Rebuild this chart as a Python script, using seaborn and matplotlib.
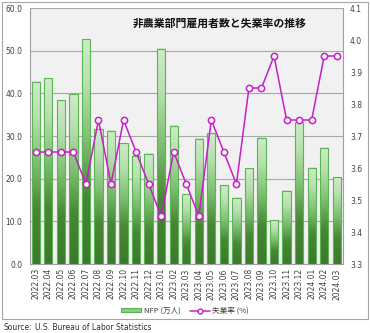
import numpy as np
import pandas as pd
import matplotlib
matplotlib.use("Agg")
import matplotlib.pyplot as plt
from matplotlib.colors import LinearSegmentedColormap
from matplotlib.patches import Rectangle, Patch
from matplotlib.lines import Line2D
import seaborn as sns

months = ["2022.03", "2022.04", "2022.05", "2022.06", "2022.07", "2022.08", "2022.09",
          "2022.10", "2022.11", "2022.12", "2023.01", "2023.02", "2023.03", "2023.04",
          "2023.05", "2023.06", "2023.07", "2023.08", "2023.09", "2023.10", "2023.11",
          "2023.12", "2024.01", "2024.02", "2024.03"]
nfp = [42.7, 43.5, 38.4, 39.8, 52.7, 31.6, 31.2, 28.3, 25.4, 25.8, 50.5, 32.4, 16.3,
       29.3, 30.6, 18.4, 15.5, 22.5, 29.6, 10.3, 17.2, 33.2, 22.6, 27.3, 20.3]
rate = [3.65, 3.65, 3.65, 3.65, 3.55, 3.75, 3.55, 3.75, 3.65, 3.55, 3.45, 3.65, 3.55,
        3.45, 3.75, 3.65, 3.55, 3.85, 3.85, 3.95, 3.75, 3.75, 3.75, 3.95, 3.95]
left_ticks = [0, 10, 20, 30, 40, 50, 60]
right_ticks = [3.3, 3.4, 3.5, 3.6, 3.7, 3.8, 3.9, 4.0, 4.1]
title = "非農業部門雇用者数と失業率の推移"
bar_label = "NFP (万人)"
line_label = "失業率 (%)"
source_label = "Source:"
source_text = "U.S. Bureau of Labor Statistics"

sns.set_theme(style="white")
plt.rcParams['font.family'] = ['DejaVu Sans', 'Noto Sans CJK JP']
cjk = ['Noto Sans CJK JP', 'DejaVu Sans']

df = pd.DataFrame({"month": months, "nfp": nfp, "rate": rate})

W, H = 370, 333
fig = plt.figure(figsize=(W / 100, H / 100), dpi=100)
fig.patch.set_facecolor("white")
ax = fig.add_axes([29.5 / W, 1 - 264 / H, (343 - 29.5) / W, (264 - 8) / H])
ax.set_facecolor("#f1f1f1")

sns.barplot(data=df, x="month", y="nfp", ax=ax, width=0.66, color="#8fcc85",
            saturation=1, edgecolor="#5db355", linewidth=0.8, zorder=2)

cmap = LinearSegmentedColormap.from_list(
    "g", [(0, "#3b7a2c"), (0.3, "#468833"), (0.55, "#7cbf70"), (0.8, "#b6e0ae"), (1, "#cdebc8")])
grad = np.linspace(0, 1, 200).reshape(-1, 1)
for p in list(ax.patches):
    x0, y0 = p.get_x(), p.get_y()
    w, h = p.get_width(), p.get_height()
    im = ax.imshow(grad, extent=[x0, x0 + w, y0, y0 + h], origin="lower",
                   cmap=cmap, aspect="auto", zorder=2.1, clip_path=p, clip_on=True)
    p.set_facecolor("none")
    p.set_zorder(2.2)

ax.set_xlim(-0.5, len(months) - 0.5)
ax.set_ylim(0, 60)
ax.set_yticks(left_ticks)
ax.set_yticklabels([f"{v:.1f}" for v in left_ticks], fontsize=5.5, color="#404040")
ax.set_xticks(range(len(months)))
ax.set_xticklabels(months, rotation=90, fontsize=5.5, color="#404040")
ax.set_xlabel("")
ax.set_ylabel("")
ax.set_axisbelow(True)
ax.yaxis.grid(True, color="#a8a8a8", linewidth=0.8)
ax.tick_params(axis="x", length=0, pad=3)
ax.tick_params(axis="y", length=0, pad=5)
ax.set_xticks(np.arange(-0.5, len(months), 1), minor=True)
ax.tick_params(axis="x", which="minor", length=2.5, color="#a0a0a0", width=0.6)
for s in ["left", "right", "bottom"]:
    ax.spines[s].set_color("#a0a0a0")
    ax.spines[s].set_linewidth(0.8)
ax.spines["top"].set_visible(False)

ax2 = ax.twinx()
sns.lineplot(x=np.arange(len(months)), y=rate, ax=ax2, color="#c81ec8", linewidth=1.1,
             marker="o", markersize=4.5, markerfacecolor="white",
             markeredgecolor="#c81ec8", markeredgewidth=1.1, zorder=5)
ax2.set_ylim(3.3, 4.1)
ax2.set_yticks(right_ticks)
ax2.set_yticklabels([f"{v:.1f}" for v in right_ticks], fontsize=5.5, color="#404040")
ax2.tick_params(axis="y", length=0, pad=5)
ax2.set_ylabel("")
for s in ax2.spines.values():
    s.set_visible(False)
ax2.set_xlim(-0.5, len(months) - 0.5)

ax.text(0.608, 0.94, title, transform=ax.transAxes, ha="center", va="center",
        fontsize=7.8, fontweight="bold", family=cjk, color="#111111", zorder=10)

fig.patches.append(Rectangle((2 / W, 1 - 319 / H), 366 / W, 317 / H, transform=fig.transFigure,
                             fill=False, edgecolor="#a6a6a6", linewidth=0.8))

handles = [Patch(facecolor="#8fcc85", edgecolor="#5db355", linewidth=0.8),
           Line2D([0], [0], color="#c81ec8", linewidth=1.1, marker="o", markersize=3.5,
                  markerfacecolor="white", markeredgecolor="#c81ec8")]
leg = fig.legend(handles, [bar_label, line_label], loc="center", bbox_to_anchor=(0.5, 1 - 311 / H),
                 ncol=2, frameon=False, fontsize=5.5, handlelength=2.6, handleheight=0.5,
                 columnspacing=1.2, handletextpad=0.3, prop={"family": cjk, "size": 5.5})
for t in leg.get_texts():
    t.set_color("#404040")

fig.text(3 / W, 1 - 327 / H, source_label, fontsize=5.5, color="#303030", va="center")
fig.text(35 / W, 1 - 327 / H, source_text, fontsize=5.5, color="#303030", va="center")

fig.savefig("out.png", dpi=100)
